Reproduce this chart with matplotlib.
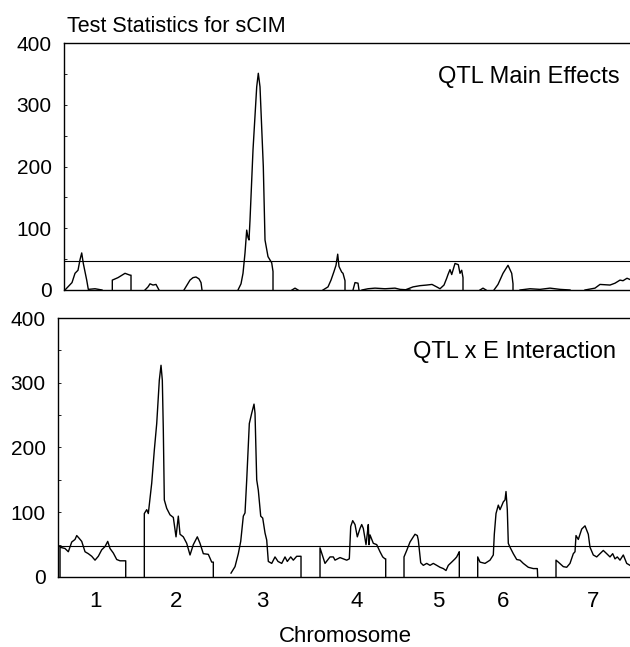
import matplotlib.pyplot as plt
from matplotlib.ticker import MultipleLocator

plt.rcParams['font.family'] = ['Liberation Sans', 'DejaVu Sans']

# map position along the genome (same units on both panels), test statistic values
main_pos = [
    [65, 72, 75, 78, 80, 81.7, 83.3, 86.7, 88.3, 95, 102],
    [112.3, 112.3, 118, 125, 130, 131, 131],
    [145, 148, 150, 153, 156, 159],
    [184, 187, 190, 193, 196, 199, 201, 202],
    [238, 241, 243, 245, 246.7, 248, 249, 250, 253, 256.7, 258.3, 260, 263.3, 265, 268, 271.7, 273, 273],
    [292, 295, 298],
    [323, 328, 331, 334, 336, 337.7, 339, 341.7, 343, 345, 345],
    [353, 355, 358, 359],
    [362, 368, 375, 385, 395, 400, 410],
    [405, 413, 420, 426.7, 432, 436.7, 440, 444, 446.7, 448, 450, 451.7, 455, 458.3, 460, 461.7, 463, 463],
    [480, 483, 486],
    [494, 498, 503, 508, 511.7, 513, 513],
    [520, 530, 540, 550, 560, 570],
    [585, 595, 600, 610, 615, 620, 623, 627, 630],
]
main_val = [
    [0, 12, 27, 32, 49, 60, 43, 16, 1, 2, 0],
    [0, 16, 20, 27, 24, 24, 0],
    [0, 5, 10, 8, 9, 0],
    [0, 8, 16, 20, 21, 18, 12, 0],
    [0, 10, 27, 60, 97, 85, 81, 113, 227, 329, 351, 329, 200, 81, 54, 44, 30, 0],
    [0, 3, 0],
    [0, 5, 16, 30, 40, 58, 38, 29, 27, 15, 0],
    [0, 12, 11, 0],
    [0, 2, 3, 2, 3, 1, 0],
    [0, 5, 7, 8, 9, 5, 2, 8, 19, 25, 33, 25, 43, 41, 27, 32, 20, 0],
    [0, 3, 0],
    [0, 9, 27, 40, 27, 10, 0],
    [0, 2, 1, 3, 1, 0],
    [0, 3, 9, 8, 11, 16, 15, 19, 17],
]

qxe_pos = [
    [60, 60, 65, 68.3, 71.7, 75, 76.7, 79, 81.7, 85, 88.3, 91.7, 95, 98.3, 101.7, 105, 107.7,
     110, 113.3, 116.7, 120, 125.7, 125.7],
    [144.3, 144.3, 146.7, 148.3, 151.7, 154.3, 156.7, 159.3, 161, 162.3, 163.3, 164.3, 166.7,
     170, 173.3, 176, 178.3, 180, 183.3, 186.7, 190, 193.3, 197.3, 200, 203.3, 208.3, 211.7,
     213.3, 213.3],
    [231, 235, 238.3, 240.7, 243.3, 245, 246.7, 249.3, 251.7, 254, 255, 256.7, 258.3, 260.7,
     262.7, 265, 266.7, 268.3, 271.7, 275, 278, 281.7, 285, 287.3, 290.7, 293.3, 296.7, 301, 301],
    [320, 320, 325, 330, 333.3, 335, 340, 343.3, 346.7, 349.3, 350.7, 352.7, 355, 357.3, 360,
     361.7, 363.3, 366, 367.3, 368.3, 369, 370, 373.3, 376.7, 380, 382.7, 385, 385.7, 385.7],
    [404, 404, 406.7, 410, 413.3, 415, 417.3, 418.3, 420.7, 423.3, 426.7, 430, 433.3, 436.7,
     440, 443.3, 446, 448.3, 451.7, 455, 456.7, 458.3, 459.3, 459.3],
    [477.7, 477.7, 480, 485, 490, 493.3, 494.3, 496, 498.3, 500, 501.7, 503.3, 505, 506, 507.3,
     508.3, 510, 513.3, 516.7, 520, 523.3, 528.3, 533.3, 537.3, 537.7],
    [556, 556, 558.3, 563.3, 566.7, 570, 573.3, 575, 576, 578.3, 580, 581.7, 585, 588.3, 590,
     593.3, 596.7, 600, 603.3, 606.7, 610, 612.7, 615, 617.3, 620, 623.3, 626.7, 630],
]
qxe_val = [
    [0, 46, 44, 39, 54, 58, 64, 60, 55, 39, 36, 32, 26, 32, 42, 47, 55, 44, 37, 27, 25, 25, 0],
    [0, 98, 104, 98, 145, 196, 237, 304, 327, 304, 227, 119, 106, 96, 92, 62, 94, 66, 62, 52,
     34, 50, 62, 52, 36, 35, 23, 23, 0],
    [6, 16, 36, 55, 94, 99, 150, 237, 253, 267, 253, 150, 134, 94, 91, 68, 57, 24, 21, 31, 24,
     21, 31, 24, 31, 26, 32, 32, 0],
    [0, 45, 21, 31, 31, 26, 30, 28, 26, 28, 78, 87, 81, 62, 75, 81, 75, 50, 67, 81, 50, 65, 52,
     50, 39, 31, 28, 28, 0],
    [0, 31, 41, 54, 62, 66, 64, 57, 22, 18, 21, 18, 21, 18, 15, 13, 10, 18, 23, 28, 31, 36, 39, 0],
    [0, 31, 23, 21, 26, 34, 66, 98, 111, 104, 110, 116, 119, 132, 104, 52, 46, 36, 27, 26, 21,
     15, 13, 13, 0],
    [0, 26, 23, 16, 15, 21, 36, 39, 64, 58, 66, 74, 79, 66, 46, 34, 31, 36, 41, 36, 31, 36, 28,
     31, 26, 34, 21, 18],
]

main_threshold = 47
qxe_threshold = 48
chrom_labels = ['1', '2', '3', '4', '5', '6', '7']
chrom_centers = [95, 176, 262, 357, 438, 503, 593]

fig = plt.figure(figsize=(6.3, 6.47), dpi=100)
ax1 = fig.add_axes([0.1016, 0.5518, 0.8984, 0.3817])
ax2 = fig.add_axes([0.0921, 0.1082, 0.9079, 0.4003])


def style(ax, xmin):
    ax.set_xlim(xmin, 630)
    ax.set_ylim(0, 400)
    ax.spines['right'].set_visible(False)
    for s in ['left', 'top', 'bottom']:
        ax.spines[s].set_linewidth(1.0)
    ax.set_yticks([0, 100, 200, 300, 400])
    ax.yaxis.set_minor_locator(MultipleLocator(50))
    ax.tick_params(axis='y', which='both', direction='in', length=2, width=0.6,
                   labelsize=15, pad=9)


for p, v in zip(main_pos, main_val):
    ax1.plot(p, v, color='black', lw=1.0)
ax1.axhline(main_threshold, color='black', lw=0.8)
style(ax1, 64)
ax1.set_xticks([])
ax1.text(0.982, 0.862, 'QTL Main Effects', transform=ax1.transAxes,
         ha='right', va='center', fontsize=17)

for p, v in zip(qxe_pos, qxe_val):
    ax2.plot(p, v, color='black', lw=1.0)
ax2.axhline(qxe_threshold, color='black', lw=0.8)
style(ax2, 58)
ax2.set_xticks(chrom_centers)
ax2.set_xticklabels(chrom_labels)
ax2.tick_params(axis='x', length=0, labelsize=16, pad=10)
ax2.text(0.976, 0.869, 'QTL x E Interaction', transform=ax2.transAxes,
         ha='right', va='center', fontsize=17)

fig.text(67 / 630, 1 - 32 / 647, 'Test Statistics for sCIM', fontsize=15.5,
         ha='left', va='baseline')
fig.text(345 / 630, 1 - 637 / 647, 'Chromosome', fontsize=16, ha='center', va='center')

fig.savefig('out.png', dpi=100)
